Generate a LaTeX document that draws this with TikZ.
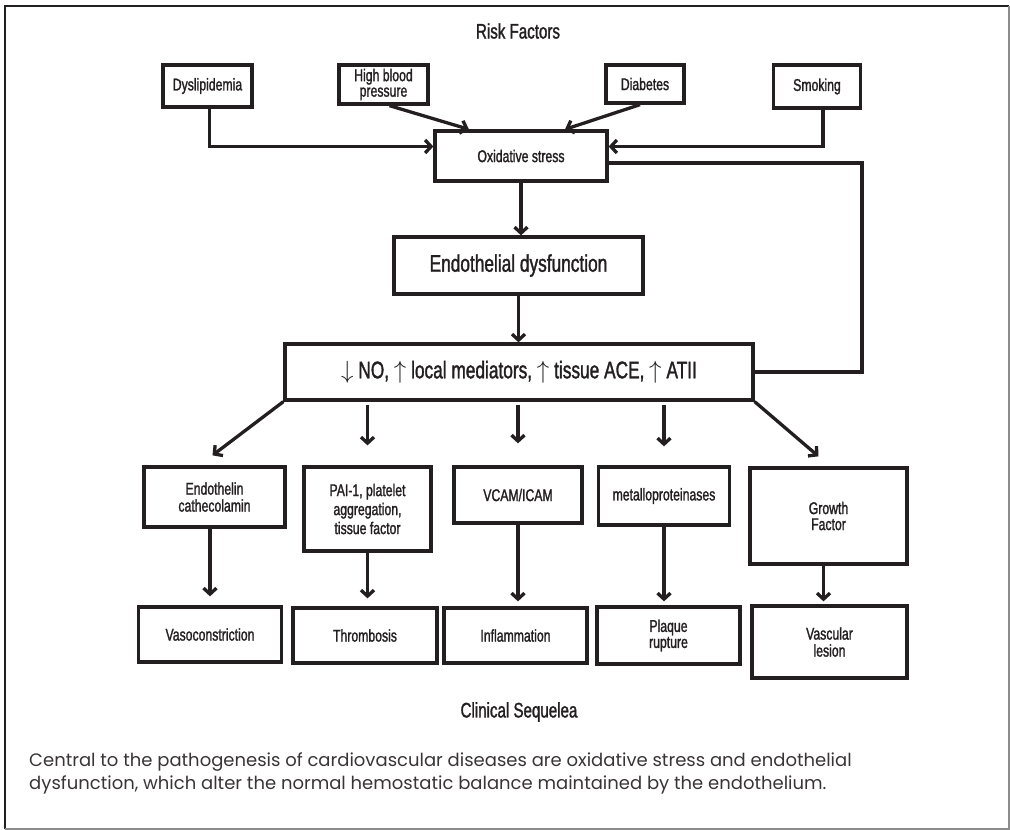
\documentclass[tikz,border=0pt]{standalone}
\usepackage{fontspec}
\setmainfont{Liberation Sans}
\newfontfamily\cond[FakeStretch=0.72,FakeBold=1.4]{Liberation Sans}
\newfontfamily\capfont{Poppins}
\usetikzlibrary{arrows.meta}
\definecolor{ink}{HTML}{231F20}

\begin{document}
\begin{tikzpicture}[x=1pt,y=-1pt,
	box/.style={draw=ink,line width=3.3pt,inner sep=0pt,align=center,text=ink,font=\cond\fontsize{17}{15}\selectfont},
	big/.style={font=\cond\fontsize{24}{26}\selectfont},
	arr/.style={-{Straight Barb[length=6pt,width=13pt]},line width=3.3pt,draw=ink},
	ttl/.style={text=ink,font=\cond\fontsize{21}{24}\selectfont}]
				%\draw [help lines,step=50] (0,0) grid (1010,830);
				\useasboundingbox (0,0) rectangle (1010,830);
				\draw[line width=2.2pt,ink] (5,829) -- (5,6) -- (1009,6);
				\draw[line width=1.2pt,black!45] (1009,6) -- (1009,829) -- (5,829);
				% risk factors
				\node[ttl] (risk) at (518,31) {Risk Factors};
				\node[box,minimum width=89pt,minimum height=42pt] (dys) at (207.5,86) {Dyslipidemia};
				\node[box,minimum width=89pt,minimum height=39pt,font=\cond\fontsize{17}{15.5}\selectfont] (hbp) at (383.5,84.5) {High blood\\pressure};
				\node[box,minimum width=78pt,minimum height=38pt] (diab) at (645,84) {Diabetes};
				\node[box,minimum width=87pt,minimum height=43pt] (smok) at (817,86.5) {Smoking};
				\node[box,minimum width=172pt,minimum height=50pt] (ox) at (521,156) {Oxidative stress};
				\node[box,big,minimum width=249pt,minimum height=57pt] (endo) at (518.5,265.5) {Endothelial dysfunction};
				\node[box,big,minimum width=468pt,minimum height=56pt] (no) at (519,372) {$\downarrow$ NO, $\uparrow$ local mediators, $\uparrow$ tissue ACE, $\uparrow$ ATII};
				% mediators
				\node[box,minimum width=141pt,minimum height=60pt,font=\cond\fontsize{17}{17}\selectfont] (etn) at (214.5,497) {Endothelin\\cathecolamin};
				\node[box,minimum width=127pt,minimum height=84pt,font=\cond\fontsize{17}{19}\selectfont] (pai) at (367.5,509) {PAI-1, platelet\\aggregation,\\tissue factor};
				\node[box,minimum width=128pt,minimum height=56pt] (vcam) at (518,495) {VCAM/ICAM};
				\node[box,minimum width=131pt,minimum height=58pt] (mmp) at (664,496) {metalloproteinases};
				\node[box,minimum width=157pt,minimum height=96pt,font=\cond\fontsize{17}{16}\selectfont] (gf) at (828.5,516) {Growth\\Factor};
				% sequelae
				\node[box,minimum width=143pt,minimum height=55pt] (vaso) at (210,634.5) {Vasoconstriction};
				\node[box,minimum width=144pt,minimum height=55pt] (thr) at (365,635.5) {Thrombosis};
				\node[box,minimum width=143pt,minimum height=55pt] (infl) at (515.5,635.5) {Inflammation};
				\node[box,minimum width=143pt,minimum height=57pt,font=\cond\fontsize{17}{16}\selectfont] (plq) at (668.5,635.5) {Plaque\\rupture};
				\node[box,minimum width=155pt,minimum height=72pt,font=\cond\fontsize{17}{17}\selectfont] (vasc) at (829.5,642) {Vascular\\lesion};
				\node[ttl] (clin) at (519,712) {Clinical Sequelea};
				\node[anchor=north west,align=left,inner sep=0pt,text=ink!90,font=\capfont\fontsize{18}{23}\selectfont] (note) at (29,753) {Central to the pathogenesis of cardiovascular diseases are oxidative stress and endothelial\\dysfunction, which alter the normal hemostatic balance maintained by the endothelium.};
				% arrows
				\draw[arr] ([xshift=2pt]dys.south) |- ([yshift=9.5pt]ox.west);
				\draw[arr] ([xshift=6pt]smok.south) |- ([yshift=9.5pt]ox.east);
				\draw[arr] ([xshift=6pt]hbp.south) -- ([xshift=-52pt]ox.north);
				\draw[arr] ([xshift=-5pt]diab.south) -- ([xshift=44pt]ox.north);
				\coordinate (fb) at (862,0);
				\draw[line width=3.3pt,ink] ([yshift=-7pt]ox.east) -| (fb |- no.east) -- (no.east);
				\draw[arr] (ox.south) -- (ox.south |- endo.north);
				\draw[arr] (endo.south) -- (endo.south |- no.north);
				\draw[arr] (no.south west) -- ([xshift=-2pt,yshift=10pt]etn.north);
				\draw[arr,shorten <=3pt,shorten >=20pt] (pai.north |- no.south) -- (pai.north);
				\draw[arr,shorten <=3pt,shorten >=22pt] (vcam.north |- no.south) -- (vcam.north);
				\draw[arr,shorten <=3pt,shorten >=19pt] (mmp.north |- no.south) -- (mmp.north);
				\draw[arr] (no.south east) -- ([xshift=-10pt,yshift=10pt]gf.north);
				\draw[arr,shorten >=9pt] (vaso.north |- etn.south) -- (vaso.north);
				\draw[arr,shorten >=8pt] (pai.south) -- (pai.south |- thr.north);
				\draw[arr,shorten >=5pt] (vcam.south) -- (vcam.south |- infl.north);
				\draw[arr,shorten >=4pt] (mmp.south) -- (mmp.south |- plq.north);
				\draw[arr,shorten >=3pt] ([xshift=-5pt]gf.south) -- ([xshift=-5pt]gf.south |- vasc.north);
				\end{tikzpicture}
\end{document}
